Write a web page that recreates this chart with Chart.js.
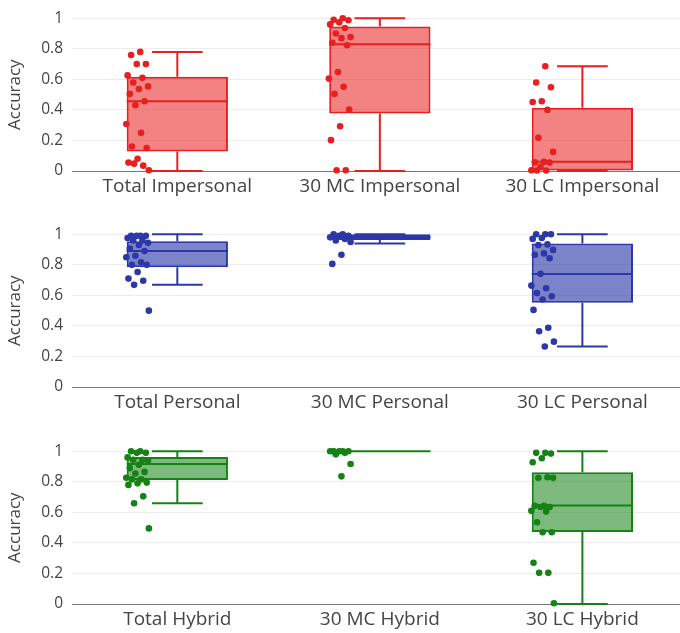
<!DOCTYPE html>
<html>
<head>
<meta charset="utf-8">
<script src="https://cdn.jsdelivr.net/npm/chart.js@4/dist/chart.umd.min.js"></script>
<style>
  html, body { margin: 0; padding: 0; background: #fff; width: 680px; height: 633px; overflow: hidden; }
  .panel { position: absolute; left: 0; }
</style>
</head>
<body>
<canvas id="impersonal" class="panel" width="691" height="200" style="top:0px"></canvas>
<canvas id="personal" class="panel" width="691" height="200" style="top:216px"></canvas>
<canvas id="hybrid" class="panel" width="691" height="200" style="top:433px"></canvas>
<script>
// Category names per panel
const impersonalCats = ['Total Impersonal', '30 MC Impersonal', '30 LC Impersonal'];
const personalCats = ['Total Personal', '30 MC Personal', '30 LC Personal'];
const hybridCats = ['Total Hybrid', '30 MC Hybrid', '30 LC Hybrid'];
const yTickValues = [0, 0.2, 0.4, 0.6, 0.8, 1];

// Box statistics, one entry per category: lower whisker, Q1, median, Q3, upper whisker
const impersonalLow = [0, 0, 0];
const impersonalQ1 = [0.127, 0.376, 0];
const impersonalMed = [0.457, 0.83, 0.06];
const impersonalQ3 = [0.618, 0.947, 0.414];
const impersonalHigh = [0.78, 1.0, 0.686];

const personalLow = [0.669, 0.94, 0.265];
const personalQ1 = [0.785, 0.962, 0.552];
const personalMed = [0.89, 0.983, 0.74];
const personalQ3 = [0.955, 1.0, 0.94];
const personalHigh = [1.0, 1.0, 1.0];

const hybridLow = [0.66, 1.0, 0];
const hybridQ1 = [0.812, 1.0, 0.472];
const hybridMed = [0.917, 1.0, 0.645];
const hybridQ3 = [0.962, 1.0, 0.863];
const hybridHigh = [1.0, 1.0, 1.0];

// Individual participant accuracies
const totalImpersonalPts = [0.78, 0.76, 0.70, 0.70, 0.626, 0.61, 0.58, 0.554, 0.537, 0.505, 0.457, 0.431, 0.308, 0.25, 0.16, 0.15, 0.08, 0.055, 0.035, 0.048, 0.005];
const mcImpersonalPts = [1.0, 0.99, 0.987, 0.973, 0.96, 0.936, 0.90, 0.877, 0.87, 0.84, 0.824, 0.648, 0.605, 0.552, 0.505, 0.403, 0.293, 0.202, 0.005, 0.005];
const lcImpersonalPts = [0.686, 0.58, 0.548, 0.457, 0.452, 0.40, 0.218, 0.125, 0.06, 0.057, 0.055, 0.027, 0.005, 0.003, 0.003];

const totalPersonalPts = [0.99, 0.99, 0.99, 0.99, 0.976, 0.96, 0.96, 0.944, 0.93, 0.906, 0.89, 0.86, 0.85, 0.817, 0.80, 0.80, 0.753, 0.71, 0.696, 0.669, 0.50];
const mcPersonalPts = [1.0, 1.0, 0.99, 0.99, 0.98, 0.97, 0.96, 0.95, 0.866, 0.806];
const lcPersonalPts = [1.0, 1.0, 1.0, 0.976, 0.97, 0.934, 0.93, 0.898, 0.875, 0.866, 0.843, 0.741, 0.664, 0.647, 0.615, 0.594, 0.573, 0.505, 0.388, 0.365, 0.297, 0.265];

const totalHybridPts = [1.0, 1.0, 0.99, 0.99, 0.96, 0.944, 0.944, 0.94, 0.912, 0.89, 0.865, 0.855, 0.827, 0.816, 0.816, 0.795, 0.79, 0.78, 0.705, 0.66, 0.495];
const mcHybridPts = [1.0, 1.0, 1.0, 1.0, 1.0, 0.99, 0.98, 0.917, 0.836];
const lcHybridPts = [0.99, 0.99, 0.985, 0.954, 0.928, 0.83, 0.826, 0.826, 0.643, 0.643, 0.635, 0.635, 0.61, 0.605, 0.535, 0.47, 0.47, 0.27, 0.204, 0.204, 0.005];

const FONT = '"Open Sans", "DejaVu Sans", sans-serif';
const TEXT = '#444';

// Points sit just left of each box; spread them with a golden-ratio sequence
function spread(k) {
  return (((k + 1) * 0.6180339887) % 1 - 0.5) * 0.118;
}

// Whiskers, caps and median line drawn over each floating box bar
function whiskerPlugin(stats, color) {
  return {
    id: 'whiskers',
    afterDatasetDraw(chart, args) {
      if (args.meta.type !== 'bar') return;
      const ctx = chart.ctx;
      const y = chart.scales.y;
      ctx.save();
      ctx.strokeStyle = color;
      ctx.lineWidth = 2;
      ctx.lineCap = 'butt';
      args.meta.data.forEach((bar, i) => {
        const half = bar.width / 2;
        const cap = half / 2;
        const cx = bar.x;
        const pLow = y.getPixelForValue(stats.low[i]);
        const pQ1 = y.getPixelForValue(stats.q1[i]);
        const pMed = y.getPixelForValue(stats.med[i]);
        const pQ3 = y.getPixelForValue(stats.q3[i]);
        const pHigh = y.getPixelForValue(stats.high[i]);
        ctx.beginPath();
        // median
        ctx.moveTo(cx - half, pMed); ctx.lineTo(cx + half, pMed);
        // upper whisker + cap
        if (pHigh < pQ3) { ctx.moveTo(cx, pQ3); ctx.lineTo(cx, pHigh); }
        ctx.moveTo(cx - cap, pHigh); ctx.lineTo(cx + cap, pHigh);
        // lower whisker + cap
        if (pLow > pQ1) { ctx.moveTo(cx, pQ1); ctx.lineTo(cx, pLow); }
        ctx.moveTo(cx - cap, pLow); ctx.lineTo(cx + cap, pLow);
        ctx.stroke();
      });
      ctx.restore();
    }
  };
}

function buildPanel(id, cats, stats, pointSets, lineColor, fillColor) {
  const points = [];
  pointSets.forEach((vals, i) => {
    vals.forEach((v, k) => points.push({ x: i - 0.197 + spread(k), y: v }));
  });
  const boxes = cats.map((c, i) => ({ x: i, y: [stats.q1[i], stats.q3[i]] }));

  new Chart(document.getElementById(id), {
    type: 'scatter',
    data: {
      datasets: [
        {
          type: 'scatter',
          data: points,
          pointRadius: 3.3,
          pointHoverRadius: 3.3,
          pointBackgroundColor: lineColor,
          pointBorderWidth: 0,
          clip: false
        },
        {
          type: 'bar',
          data: boxes,
          backgroundColor: fillColor,
          borderColor: lineColor,
          borderWidth: 2,
          borderSkipped: false,
          barPercentage: 0.5,
          categoryPercentage: 1,
          clip: false
        }
      ]
    },
    options: {
      responsive: false,
      animation: false,
      events: [],
      layout: { padding: { top: 14, left: 0, right: 0, bottom: 0 } },
      plugins: { legend: { display: false }, tooltip: { enabled: false } },
      scales: {
        x: {
          type: 'linear',
          min: -0.52,
          max: 2.52,
          offset: false,
          grid: { display: false, offset: false, drawTicks: false },
          border: { display: true, color: '#777', width: 1 },
          afterBuildTicks: s => { s.ticks = cats.map((c, i) => ({ value: i })); },
          afterFit: s => { s.height = 29; },
          ticks: {
            autoSkip: false,
            maxRotation: 0,
            padding: 4,
            color: TEXT,
            font: { family: FONT, size: 19 },
            callback: v => cats[v]
          }
        },
        y: {
          type: 'linear',
          min: 0,
          max: 1,
          beginAtZero: true,
          grid: { color: '#ececec', lineWidth: 1, drawTicks: false },
          border: { display: false },
          afterBuildTicks: s => { s.ticks = yTickValues.map(v => ({ value: v })); },
          afterFit: s => { s.width = 72; },
          ticks: {
            padding: 9,
            color: TEXT,
            font: { family: FONT, size: 15.5 },
            callback: v => String(v)
          },
          title: {
            display: true,
            text: 'Accuracy',
            color: TEXT,
            font: { family: FONT, size: 17 },
            padding: { top: 5, bottom: 0 }
          }
        }
      }
    },
    plugins: [whiskerPlugin(stats, lineColor)]
  });
}

buildPanel('impersonal', impersonalCats,
  { low: impersonalLow, q1: impersonalQ1, med: impersonalMed, q3: impersonalQ3, high: impersonalHigh },
  [totalImpersonalPts, mcImpersonalPts, lcImpersonalPts],
  'rgb(230,32,32)', 'rgba(235,40,40,0.58)');

buildPanel('personal', personalCats,
  { low: personalLow, q1: personalQ1, med: personalMed, q3: personalQ3, high: personalHigh },
  [totalPersonalPts, mcPersonalPts, lcPersonalPts],
  'rgb(44,56,168)', 'rgba(44,56,168,0.62)');

buildPanel('hybrid', hybridCats,
  { low: hybridLow, q1: hybridQ1, med: hybridMed, q3: hybridQ3, high: hybridHigh },
  [totalHybridPts, mcHybridPts, lcHybridPts],
  'rgb(20,130,20)', 'rgba(20,130,20,0.55)');
</script>
</body>
</html>
